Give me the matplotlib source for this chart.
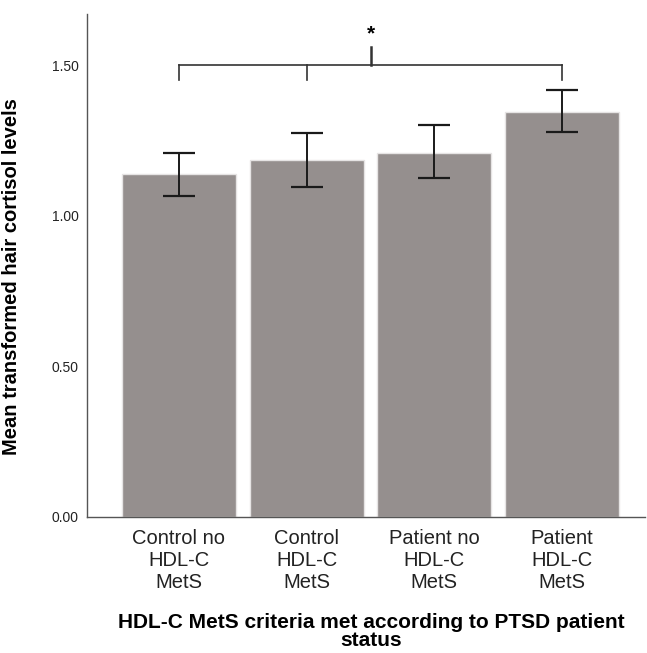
import matplotlib
matplotlib.use("Agg")
import matplotlib.pyplot as plt

plt.rcParams['font.family'] = ['Liberation Sans', 'DejaVu Sans']

categories = ["Control no\nHDL-C\nMetS", "Control\nHDL-C\nMetS",
              "Patient no\nHDL-C\nMetS", "Patient\nHDL-C\nMetS"]
means = [1.14, 1.185, 1.21, 1.346]
err_low = [1.067, 1.097, 1.124, 1.277]
err_high = [1.21, 1.275, 1.30, 1.419]

fig = plt.figure(figsize=(6.47, 6.53), dpi=100)
ax = fig.add_axes([0.1345, 0.2083, 0.8625, 0.7703])

x = list(range(len(categories)))
ax.bar(x, means, width=0.893, color='#958f8e', edgecolor='#e6e4e4', linewidth=1, zorder=2)
yerr = [[m - lo for m, lo in zip(means, err_low)], [hi - m for m, hi in zip(means, err_high)]]
ax.errorbar(x, means, yerr=yerr, fmt='none', ecolor='#1a1a1a', elinewidth=1.4,
            capsize=11.5, capthick=1.6, zorder=3)

# significance bracket
yb, yleg = 1.50, 1.45
ax.plot([0, 3], [yb, yb], color='#333333', lw=1.2)
for xi in [0, 1, 3]:
    ax.plot([xi, xi], [yleg, yb], color='#333333', lw=1.2)
ax.plot([1.5, 1.5], [yb, 1.56], color='#333333', lw=1.8)
ax.text(1.5, 1.605, '*', ha='center', va='center', fontsize=15, fontweight='bold')

ax.set_xlim(-0.72, 3.65)
ax.set_ylim(0, 1.67)
ax.set_yticks([0, 0.5, 1.0, 1.5])
ax.set_yticklabels(['0.00', '0.50', '1.00', '1.50'], fontsize=10, color='#222222')
ax.set_xticks(x)
ax.set_xticklabels(categories, fontsize=14.5, color='#222222', linespacing=1.2)
ax.tick_params(axis='both', length=0)
ax.tick_params(axis='y', pad=6)
ax.tick_params(axis='x', pad=9)

for s in ['top', 'right']:
    ax.spines[s].set_visible(False)
for s in ['left', 'bottom']:
    ax.spines[s].set_color('#555555')
    ax.spines[s].set_linewidth(1)

ax.set_ylabel('Mean transformed hair cortisol levels', fontsize=14.5, fontweight='bold')
ax.yaxis.set_label_coords(-0.118, 0.477)
ax.set_xlabel('HDL-C MetS criteria met according to PTSD patient\nstatus', fontsize=15,
              fontweight='bold', linespacing=0.95)
ax.xaxis.set_label_coords(0.509, -0.19)

fig.savefig('out.png', dpi=100)
